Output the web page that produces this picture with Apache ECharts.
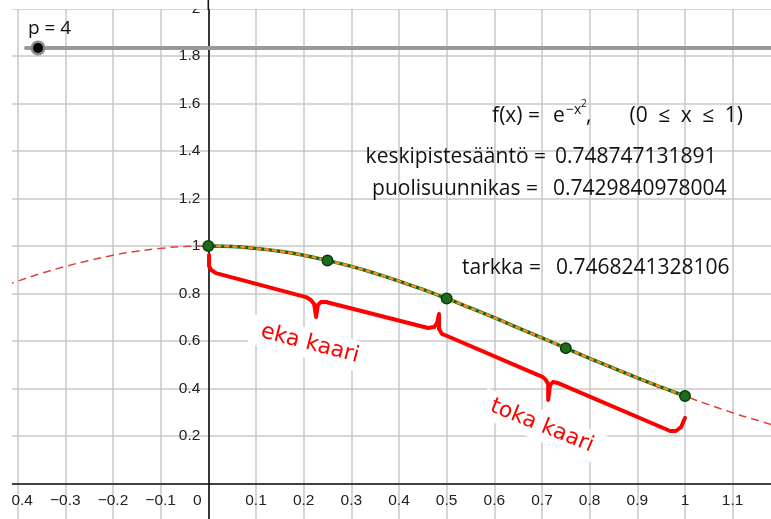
<!DOCTYPE html>
<html><head><meta charset="utf-8">
<script src="https://cdn.jsdelivr.net/npm/echarts@6/dist/echarts.min.js"></script>
<style>html,body{margin:0;padding:0;background:#fff}#c{width:771px;height:519px}#err{position:absolute;left:20px;top:440px;font:11px monospace;color:#00f}</style>
</head><body><div id="c"></div><div id="err"></div>
<script>
window.onerror = function (m) { document.getElementById('err').textContent += ' ' + m; };
// f(x) = e^(-x^2)
const curveX = [-0.45,-0.4,-0.35,-0.3,-0.25,-0.2,-0.15,-0.1,-0.05,0,0.05,0.1,0.15,0.2,0.25,0.3,0.35,0.4,0.45,0.5,0.55,0.6,0.65,0.7,0.75,0.8,0.85,0.9,0.95,1,1.05,1.1,1.15,1.2];
const curveY = [0.817,0.852,0.885,0.914,0.939,0.961,0.978,0.990,0.998,1,0.998,0.990,0.978,0.961,0.939,0.914,0.885,0.852,0.817,0.779,0.739,0.698,0.655,0.613,0.570,0.527,0.486,0.445,0.406,0.368,0.332,0.298,0.267,0.237];
// subdivision points (p = 4)
const pointsX = [0,0.25,0.5,0.75,1];
const pointsY = [1,0.939,0.779,0.570,0.368];
// brace outlines (data coordinates)
const brace1X = [0.0015,0.0015,0.006,0.016,0.205,0.215,0.222,0.226,0.230,0.236,0.247,0.461,0.474,0.480,0.484];
const brace1Y = [0.962,0.916,0.899,0.886,0.785,0.773,0.756,0.701,0.752,0.764,0.764,0.655,0.659,0.676,0.714];
const brace2X = [0.484,0.484,0.490,0.501,0.702,0.708,0.713,0.713,0.717,0.723,0.734,0.969,0.981,0.992,1.000];
const brace2Y = [0.705,0.651,0.630,0.621,0.448,0.436,0.419,0.352,0.415,0.427,0.423,0.221,0.221,0.238,0.276];
// texts
const braceLabels = ['eka kaari','toka kaari'];
const braceLabelPos = [[0.2131,0.588],[0.6999,0.242]];
const braceLabelAngle = [14.5, 22];
const sliderText = 'p = 4';
const rowNames = ['keskipistesääntö =','puolisuunnikas =','tarkka ='];
const rowValues = ['0.748747131891','0.7429840978004','0.7468241328106'];

const zip = (xs, ys) => xs.map((x, i) => [x, ys[i]]);
const arcData = zip(curveX, curveY).filter(p => p[0] >= 0 && p[0] <= 1);

const chart = echarts.init(document.getElementById('c'), null, {renderer: 'canvas'});
const fmt = v => {
  const r = parseFloat(Number(v).toFixed(2));
  return String(r).replace('-', '\u2212');
};
const braceStyle = {color: '#ff0000', width: 4, cap: 'round', join: 'round'};
const LBL = {color: '#222', fontSize: 15.5, fontFamily: 'Liberation Sans'};
chart.setOption({
  animation: false,
  backgroundColor: '#fff',
  grid: {left: -30, right: -9.3, top: -39, bottom: -12, containLabel: false, outerBoundsMode: 'none'},
  xAxis: {
    type: 'value', min: -0.5, max: 1.2, interval: 0.1, position: 'bottom',
    axisLine: {onZero: false, lineStyle: {color: '#111', width: 1.6}},
    axisTick: {show: false},
    splitLine: {show: true, lineStyle: {color: '#c8c8c8', width: 1.5}},
    axisLabel: Object.assign({}, LBL, {
      margin: 9, showMinLabel: true, showMaxLabel: true,
      formatter: v => {
        if (Math.abs(v) < 1e-9) return '{o|0}';
        if (v > 1.15 || v < -0.45) return '';
        return fmt(v);
      },
      rich: {o: Object.assign({padding: [0, 22, 0, 0]}, LBL)}
    })
  },
  yAxis: {
    type: 'value', min: -0.2, max: 2.2, interval: 0.2, position: 'left',
    axisLine: {onZero: false, lineStyle: {color: '#111', width: 1.6}},
    axisTick: {show: false},
    splitLine: {show: true, lineStyle: {color: '#c8c8c8', width: 1.5}},
    axisLabel: Object.assign({}, LBL, {
      margin: 8, showMinLabel: true, showMaxLabel: true, padding: [4, 0, 0, 0],
      formatter: v => (v < 0.1 || v > 2.05) ? '' : fmt(v)
    })
  },
  series: [
    {type: 'line', data: zip(curveX, curveY), smooth: true, showSymbol: false, z: 2,
     lineStyle: {color: '#e0413a', width: 1.5, type: [8, 5]}},
    {type: 'line', data: arcData, smooth: true, showSymbol: false, z: 3,
     lineStyle: {color: '#0f6a12', width: 3.5}},
    {type: 'line', data: arcData, smooth: true, showSymbol: false, z: 4,
     lineStyle: {color: '#ff8a1c', width: 2.5, type: [5, 3]}},
    {type: 'line', data: zip(brace1X, brace1Y), showSymbol: false, z: 5, lineStyle: braceStyle},
    {type: 'line', data: zip(brace2X, brace2Y), showSymbol: false, z: 5, lineStyle: braceStyle},
    {type: 'scatter', data: zip(pointsX, pointsY), symbolSize: 10.5, z: 6,
     itemStyle: {color: '#1c6e1c', borderColor: '#0b3a0b', borderWidth: 1.5, opacity: 1}}
  ]
});

const px = p => chart.convertToPixel({gridIndex: 0}, p);
let origin = px([0, 0]);
const gridBottom = px([0, -0.2])[1];
const gridLeft = px([-0.5, 0])[0];
// move the axes (lines and labels) onto the origin
chart.setOption({
  xAxis: {offset: origin[1] - gridBottom},
  yAxis: {offset: gridLeft - origin[0]}
});
origin = px([0, 0]);

const FONT = '"Open Sans"';
const T = (x, y, text, size, align, extra) => Object.assign({
  type: 'text', z: 100, x: x, y: y,
  style: Object.assign({text: text, fill: '#111', font: size + 'px ' + FONT, align: align, verticalAlign: 'middle'}, extra || {})
});
const g = [];
// brace labels
braceLabels.forEach((t, i) => {
  const p = px(braceLabelPos[i]);
  g.push({type: 'text', z: 90, x: p[0], y: p[1], rotation: -braceLabelAngle[i] * Math.PI / 180,
    style: {text: t, fill: '#ff0000', font: '22px "DejaVu Sans"', align: 'center', verticalAlign: 'middle',
            backgroundColor: '#ffffff', padding: [4, 10]}});
});
// right-hand texts
g.push(T(540, 116, 'f(x) =', 21, 'right'));
g.push(T(553, 116, 'e', 21, 'left'));
g.push(T(566, 110, '\u2212x', 14, 'left'));
g.push(T(581, 104, '2', 10, 'left'));
g.push(T(586, 116, ',', 21, 'left'));
g.push(T(743, 116, '(0\u2002\u2264\u2002x\u2002\u2264\u20021)', 21, 'right'));
const rowY = [157, 189, 268];
const nameRight = [546, 538, 541];
const valueLeft = [555, 553, 556];
rowNames.forEach((n, i) => {
  g.push(T(nameRight[i], rowY[i], n, 21, 'right'));
  g.push(T(valueLeft[i], rowY[i], rowValues[i], 21, 'left'));
});
// clipping bands (view border)
g.push({type: 'rect', z: 200, shape: {x: 0, y: 0, width: 771, height: 9}, style: {fill: '#fff'}});
g.push({type: 'rect', z: 200, shape: {x: 0, y: 0, width: 12, height: 519}, style: {fill: '#fff'}});
g.push({type: 'line', z: 201, shape: {x1: origin[0], y1: 0, x2: origin[0], y2: 10}, style: {stroke: '#111', lineWidth: 1.6}});
// slider
g.push({type: 'line', z: 150, shape: {x1: 26, y1: 48, x2: 771, y2: 48}, style: {stroke: '#9a9a9a', lineWidth: 4, lineCap: 'round'}});
g.push({type: 'circle', z: 151, shape: {cx: 38, cy: 48, r: 7.5}, style: {fill: '#8c8c8c'}});
g.push({type: 'circle', z: 152, shape: {cx: 38, cy: 48, r: 5}, style: {fill: '#000'}});
g.push(T(28, 29, sliderText, 19, 'left'));
chart.setOption({graphic: g});
</script>
</body></html>
